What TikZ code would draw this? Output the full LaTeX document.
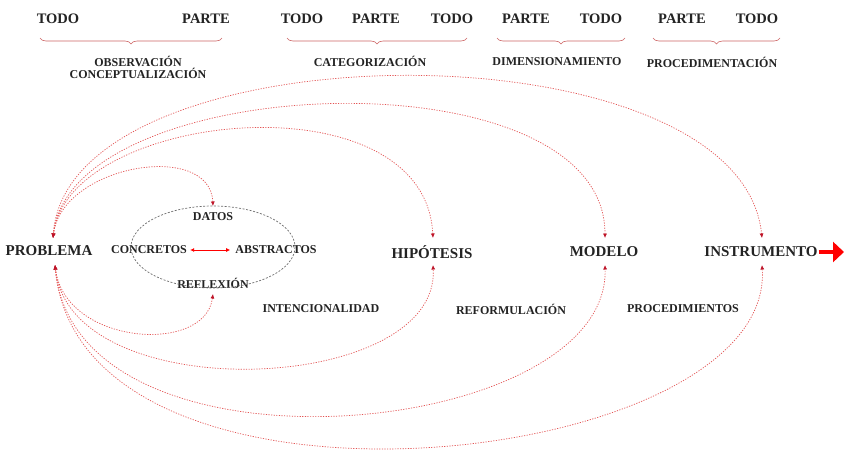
\documentclass[tikz,border=0pt]{standalone}
\usepackage{fontspec}
\setmainfont{Liberation Serif}
\usetikzlibrary{arrows.meta,decorations.pathreplacing}
\definecolor{arccol}{RGB}{228,85,85}
\definecolor{tipcol}{RGB}{190,20,40}
\definecolor{bracecol}{RGB}{205,100,100}
\definecolor{ellcol}{RGB}{110,110,110}
\definecolor{txtcol}{RGB}{35,35,35}
\begin{document}
\begin{tikzpicture}[x=1pt,y=-1pt,
 lbl/.style={font=\fontsize{15}{17}\selectfont\bfseries, text=txtcol, inner sep=1pt},
 sml/.style={font=\fontsize{12}{14}\selectfont\bfseries, text=txtcol, inner sep=1pt},
 toplbl/.style={font=\fontsize{14.5}{16}\selectfont\bfseries, text=txtcol, inner sep=1pt},
 conn/.style={draw=arccol, line width=0.7pt, dash pattern=on 1.2pt off 1.4pt,
   {Latex[length=4.5pt,width=4pt,color=tipcol]}-{Latex[length=4.5pt,width=4pt,color=tipcol]}},
 brc/.style={draw=bracecol, line width=0.6pt, decorate, decoration={brace,mirror,amplitude=6pt}},
]
\useasboundingbox[fill=white] (0,0) rectangle (844,453);

% top row
\node[toplbl] (t1) at (58,19) {TODO};
\node[toplbl] (p1) at (206,19) {PARTE};
\node[toplbl] (t2) at (302,19) {TODO};
\node[toplbl] (p2) at (376,19) {PARTE};
\node[toplbl] (t3) at (452,19) {TODO};
\node[toplbl] (p3) at (526,19) {PARTE};
\node[toplbl] (t4) at (601,19) {TODO};
\node[toplbl] (p4) at (682,19) {PARTE};
\node[toplbl] (t5) at (757,19) {TODO};

% braces
\coordinate (b1a) at (40,38); \coordinate (b1b) at (222,38);
\coordinate (b2a) at (287,38); \coordinate (b2b) at (467,38);
\coordinate (b3a) at (497,38); \coordinate (b3b) at (625,38);
\coordinate (b4a) at (653,38); \coordinate (b4b) at (780,38);
\draw[brc] (b1a) -- (b1b);
\draw[brc] (b2a) -- (b2b);
\draw[brc] (b3a) -- (b3b);
\draw[brc] (b4a) -- (b4b);

\node[sml] (obs) at (138,61) {OBSERVACIÓN};
\node[sml] (conc2) at (138,73) {CONCEPTUALIZACIÓN};
\node[sml] (cat) at (370,61) {CATEGORIZACIÓN};
\node[sml] (dim) at (557,62) {DIMENSIONAMIENTO};
\node[sml] (proc) at (712,62) {PROCEDIMENTACIÓN};

% main row
\node[lbl] (prob) at (49,251) {PROBLEMA};
\node[sml] (conc) at (149,250) {CONCRETOS};
\node[sml] (abs) at (276,250) {ABSTRACTOS};
\node[sml] (dat) at (213,217) {DATOS};
\node[sml] (refl) at (213,283) {REFLEXIÓN};
\node[lbl] (hip) at (432,252) {HIPÓTESIS};
\node[lbl] (mod) at (604,252) {MODELO};
\node[lbl] (ins) at (761,252) {INSTRUMENTO};

\node[sml] (int) at (321,309) {INTENCIONALIDAD};
\node[sml] (ref) at (511,309) {REFORMULACIÓN};
\node[sml] (pro) at (683,309) {PROCEDIMIENTOS};

% ellipse
\draw[ellcol, line width=0.7pt, dash pattern=on 2pt off 1.6pt] (213,247) ellipse [x radius=82, y radius=41];

% anchor coordinates
\coordinate (probT) at ([xshift=4pt,yshift=13pt]prob.center);
\coordinate (probB) at ([xshift=6pt,yshift=-14pt]prob.center);
\coordinate (datT) at ([yshift=11pt]dat.center);
\coordinate (reflB) at ([yshift=-11pt]refl.center);
\coordinate (hipT) at ([xshift=1pt,yshift=14pt]hip.center);
\coordinate (hipB) at ([xshift=1pt,yshift=-13pt]hip.center);
\coordinate (modT) at ([xshift=1pt,yshift=14pt]mod.center);
\coordinate (modB) at ([xshift=1pt,yshift=-13pt]mod.center);
\coordinate (insT) at ([xshift=1pt,yshift=14pt]ins.center);
\coordinate (insB) at ([xshift=1pt,yshift=-13pt]ins.center);

% upper arcs
\draw[conn] (probT) .. controls (62,165) and (210,140) .. (datT);
\draw[conn] (probT) .. controls (68,110) and (425,75) .. (hipT);
\draw[conn] (probT) .. controls (70,70) and (605,50) .. (modT);
\draw[conn] (probT) .. controls (68,25) and (740,20) .. (insT);

% lower arcs
\draw[conn] (probB) .. controls (65,345) and (205,355) .. (reflB);
\draw[conn] (probB) .. controls (70,410) and (440,395) .. (hipB);
\draw[conn] (probB) .. controls (75,490) and (610,440) .. (modB);
\draw[conn] (probB) .. controls (80,545) and (775,470) .. (insB);

% concretos <-> abstractos
\draw[red, line width=1pt, shorten <=2pt, shorten >=4pt, {Latex[length=4pt,width=4pt]}-{Latex[length=4pt,width=4pt]}] (conc.east) -- (abs.west);

% output arrow
\coordinate (outEnd) at (844,252);
\draw[red, line width=3.5pt, -{Triangle[length=11pt,width=20pt]}] (ins.east) -- (outEnd);
\end{tikzpicture}
\end{document}
